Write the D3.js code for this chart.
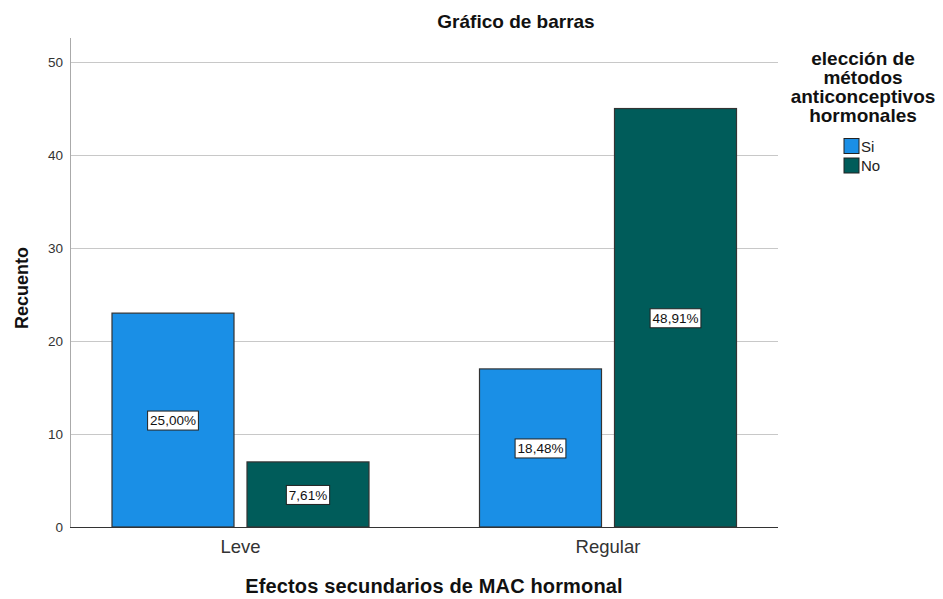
<!DOCTYPE html>
<html><head><meta charset="utf-8">
<script src="https://cdn.jsdelivr.net/npm/d3@7"></script>
<style>body{margin:0;background:#fff;} text{font-family:Arial,"Liberation Sans",sans-serif;}</style>
</head><body><svg id="c" width="943" height="599"></svg>
<script>
const categories = ["Leve", "Regular"];
const series = ["Si", "No"];
const valuesSi = [23, 17];
const valuesNo = [7, 45];
const pctLabelsSi = ["25,00%", "18,48%"];
const pctLabelsNo = ["7,61%", "48,91%"];
const yTicks = [0, 10, 20, 30, 40, 50];
const colors = {Si: "#1a8fe6", No: "#005c5a"};

(function () {
const svg = d3.select("#c");
const left = 70, right = 778, base = 527, plotTop = 40;
const y = d3.scaleLinear().domain([0, 52.37]).range([base, plotTop]);
const x0 = d3.scaleBand().domain(categories).range([56.75, 791.75]).padding(0);
const x1 = d3.scaleBand().domain(series).range([55.25, 312.25]).paddingInner(0.0963).paddingOuter(0);

// gridlines
svg.append("g").selectAll("line").data(yTicks.filter(d => d > 0)).join("line")
  .attr("x1", left).attr("x2", right).attr("y1", d => y(d)).attr("y2", d => y(d))
  .attr("stroke", "#c8c8c8").attr("stroke-width", 1).attr("shape-rendering", "crispEdges");

// y axis
const yAxis = d3.axisLeft(y).tickValues(yTicks).tickSize(0).tickPadding(7);
const gy = svg.append("g").attr("transform", `translate(${left},0)`).call(yAxis);
gy.select(".domain").remove();
gy.selectAll(".tick text").attr("font-size", 13.5).attr("fill", "#333").attr("font-family", "Arial, Liberation Sans, sans-serif");
svg.append("line").attr("x1", left).attr("x2", left).attr("y1", plotTop - 2).attr("y2", base)
  .attr("stroke", "#aaa").attr("shape-rendering", "crispEdges");

// bars
const data = [];
categories.forEach((c, i) => {
  data.push({cat: c, s: "Si", v: valuesSi[i], lab: pctLabelsSi[i]});
  data.push({cat: c, s: "No", v: valuesNo[i], lab: pctLabelsNo[i]});
});
svg.append("g").selectAll("rect").data(data).join("rect")
  .attr("x", d => x0(d.cat) + x1(d.s))
  .attr("y", d => y(d.v))
  .attr("width", x1.bandwidth())
  .attr("height", d => y(0) - y(d.v))
  .attr("fill", d => colors[d.s])
  .attr("stroke", "#333").attr("stroke-width", 1.2);

// x axis
svg.append("line").attr("x1", left).attr("x2", right).attr("y1", base).attr("y2", base)
  .attr("stroke", "#333").attr("shape-rendering", "crispEdges");
const xAxis = d3.axisBottom(x0).tickSize(0).tickPadding(13);
const gx = svg.append("g").attr("transform", `translate(0,${base})`).call(xAxis);
gx.select(".domain").remove();
gx.selectAll(".tick text").attr("font-size", 18.5).attr("fill", "#333").attr("font-family", "Arial, Liberation Sans, sans-serif");

// labels
const lg = svg.append("g").selectAll("g").data(data).join("g")
  .attr("transform", d => `translate(${x0(d.cat) + x1(d.s) + x1.bandwidth() / 2},${(y(d.v) + y(0)) / 2 + 0.5})`);
lg.each(function(d) {
  const g = d3.select(this);
  const t = g.append("text").text(d.lab).attr("text-anchor", "middle").attr("dy", "0.35em")
    .attr("font-size", 13.5).attr("fill", "#111");
  const w = t.node().getComputedTextLength();
  g.insert("rect", "text").attr("x", -w / 2 - 2.5).attr("y", -9.5).attr("width", w + 5).attr("height", 19)
    .attr("fill", "#fff").attr("stroke", "#222").attr("stroke-width", 1);
});

// titles
svg.append("text").attr("x", 516).attr("y", 28).attr("text-anchor", "middle")
  .attr("font-size", 19).attr("font-weight", "bold").attr("fill", "#111").text("Gráfico de barras");
svg.append("text").attr("transform", "translate(28,288) rotate(-90)").attr("text-anchor", "middle")
  .attr("font-size", 18).attr("font-weight", "bold").attr("fill", "#111").text("Recuento");
svg.append("text").attr("x", 434).attr("y", 593).attr("text-anchor", "middle")
  .attr("font-size", 20).attr("letter-spacing", 0.15).attr("font-weight", "bold").attr("fill", "#111").text("Efectos secundarios de MAC hormonal");

// legend
const legTitle = ["elección de", "métodos", "anticonceptivos", "hormonales"];
svg.append("g").selectAll("text").data(legTitle).join("text")
  .attr("x", 863).attr("y", (d, i) => 65 + i * 19).attr("text-anchor", "middle")
  .attr("font-size", 19).attr("font-weight", "bold").attr("fill", "#111").text(d => d);
const li = svg.append("g").selectAll("g").data(series).join("g")
  .attr("transform", (d, i) => `translate(844,${138.5 + i * 19.5})`);
li.append("rect").attr("width", 15).attr("height", 15).attr("fill", d => colors[d])
  .attr("stroke", "#222").attr("stroke-width", 1);
li.append("text").attr("x", 17).attr("y", 13).attr("font-size", 15).attr("fill", "#222").text(d => d);
})();
</script></body></html>
